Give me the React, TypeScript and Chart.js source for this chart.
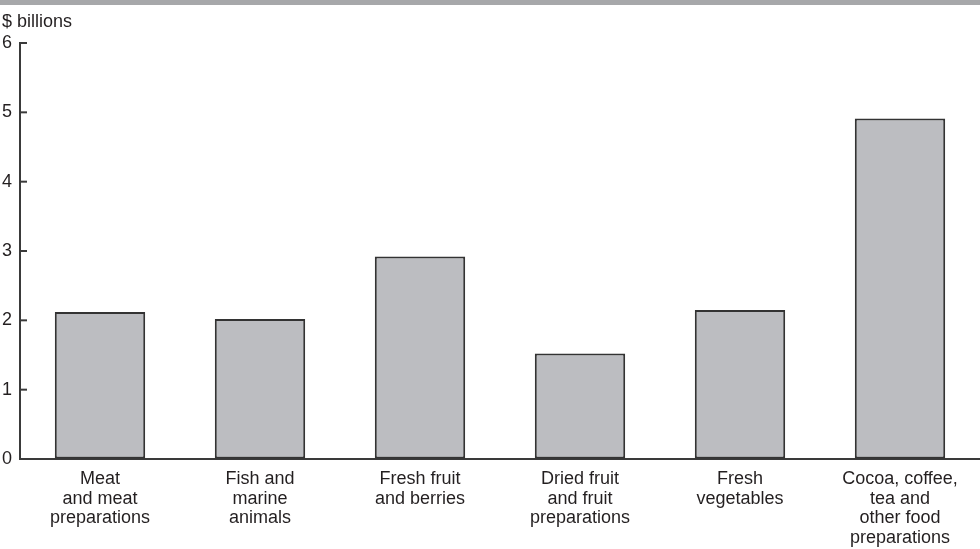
import { useEffect, useRef } from "react";
import { Chart, registerables } from "chart.js";

Chart.register(...registerables);

const categories: string[][] = [
  ["Meat", "and meat", "preparations"],
  ["Fish and", "marine", "animals"],
  ["Fresh fruit", "and berries"],
  ["Dried fruit", "and fruit", "preparations"],
  ["Fresh", "vegetables"],
  ["Cocoa, coffee,", "tea and", "other food", "preparations"],
];
const values: number[] = [2.12, 2.02, 2.92, 1.52, 2.15, 4.91];
const yMin = 0;
const yMax = 6;
const yStep = 1;
const unitLabel = "$ billions";

const FONT = "'Liberation Sans', Arial, sans-serif";
const TEXT = "#231f20";
const AXIS = "#3a3a3a";

export default function App() {
  const ref = useRef<HTMLCanvasElement | null>(null);

  useEffect(() => {
    if (!ref.current) return;
    const decor = {
      id: "decor",
      beforeDraw(chart: any) {
        const ctx = chart.ctx;
        ctx.save();
        ctx.fillStyle = "#a7a8aa";
        ctx.fillRect(0, 0, chart.width, 5);
        ctx.fillStyle = TEXT;
        ctx.font = `18px ${FONT}`;
        ctx.textBaseline = "alphabetic";
        ctx.textAlign = "left";
        ctx.fillText(unitLabel, 2, 27);
        ctx.restore();
      },
      afterDraw(chart: any) {
        const ctx = chart.ctx;
        const y = chart.scales.y;
        const left = chart.chartArea.left;
        ctx.save();
        ctx.strokeStyle = AXIS;
        ctx.lineWidth = 2;
        y.ticks.forEach((t: any) => {
          const py = y.getPixelForValue(t.value);
          ctx.beginPath();
          ctx.moveTo(left, py);
          ctx.lineTo(left + 7, py);
          ctx.stroke();
        });
        ctx.restore();
      },
    };

    const chart = new Chart(ref.current, {
      type: "bar",
      data: {
        labels: categories,
        datasets: [
          {
            data: values,
            backgroundColor: "#bcbdc1",
            borderColor: "#333333",
            borderWidth: 2,
            borderSkipped: false,
            barPercentage: 0.565,
            categoryPercentage: 1,
          },
        ],
      },
      options: {
        responsive: false,
        animation: false,
        layout: { padding: { top: 43, left: 0, right: 0, bottom: 0 } },
        plugins: {
          legend: { display: false },
          tooltip: { enabled: false },
        },
        scales: {
          x: {
            grid: { display: false, drawTicks: false },
            border: { display: true, color: AXIS, width: 2 },
            ticks: {
              autoSkip: false,
              maxRotation: 0,
              minRotation: 0,
              color: TEXT,
              padding: 10,
              font: { family: FONT, size: 18, lineHeight: 1.1 },
            },
            afterFit(scale: any) {
              scale.height = 90;
            },
          },
          y: {
            min: yMin,
            max: yMax,
            grid: { drawOnChartArea: false, drawTicks: false },
            border: { display: true, color: AXIS, width: 2 },
            ticks: {
              stepSize: yStep,
              color: TEXT,
              padding: 8,
              font: { family: FONT, size: 18 },
            },
            afterFit(scale: any) {
              scale.width = 20;
            },
          },
        },
      },
      plugins: [decor],
    });
    return () => chart.destroy();
  }, []);

  return (
    <div style={{ position: "absolute", left: 0, top: 0, width: 980, height: 549, background: "#fff" }}>
      <canvas ref={ref} width={980} height={549} />
    </div>
  );
}
